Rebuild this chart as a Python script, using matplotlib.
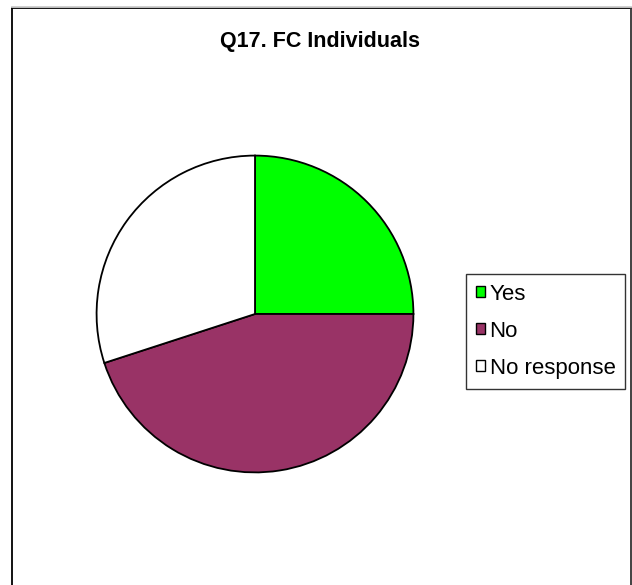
import matplotlib
matplotlib.use("Agg")
import matplotlib.pyplot as plt
from matplotlib.patches import Patch
from matplotlib.lines import Line2D

plt.rcParams['font.family'] = ['Liberation Sans', 'DejaVu Sans']

title = "Q17. FC Individuals"
categories = ["Yes", "No", "No response"]
values = [25, 45, 30]
colors = ["#00FF00", "#993366", "#FFFFFF"]

W, H = 632, 585
fig = plt.figure(figsize=(W / 100, H / 100), dpi=100)
fig.patch.set_facecolor("white")

# chart border (open at the bottom)
def fx(px):
    return px / W

def fy(py):
    return 1 - py / H

for xs, ys, c in [
    ([11.5, 11.5], [H + 5, 8], "black"),
    ([11.5, 631], [8, 8], "black"),
    ([631, 631], [8, H + 5], "#333333"),
    ([11.5, 631], [6.8, 6.8], "#cccccc"),
]:
    fig.add_artist(Line2D([fx(x) for x in xs], [fy(y) for y in ys],
                          transform=fig.transFigure, color=c, lw=1.3))

# pie area
cx, cy, r = 255, 314, 160
ax = fig.add_axes([fx(cx - r), fy(cy + r), 2 * r / W, 2 * r / H])
wedges, _ = ax.pie(values, colors=colors, startangle=90, counterclock=False,
                   radius=1, wedgeprops=dict(edgecolor="black", linewidth=1.3))
ax.set_xlim(-1.01, 1.01)
ax.set_ylim(-1.01, 1.01)
ax.set_aspect("auto")
ax.axis("off")

fig.text(fx(320), fy(41), title, ha="center", va="center",
         fontsize=15.5, fontweight="bold")

handles = [Patch(facecolor=c, edgecolor="black", linewidth=1.0) for c in colors]
leg = fig.legend(handles, categories, loc="upper left",
                 bbox_to_anchor=(fx(466), fy(274)), bbox_transform=fig.transFigure,
                 borderaxespad=0, fontsize=16, frameon=True, fancybox=False,
                 handlelength=0.42, handleheight=0.36, handletextpad=0.2,
                 labelspacing=0.72, borderpad=0.44)
leg.get_frame().set_edgecolor("black")
leg.get_frame().set_linewidth(1.0)

fig.savefig("out.png", dpi=100)
